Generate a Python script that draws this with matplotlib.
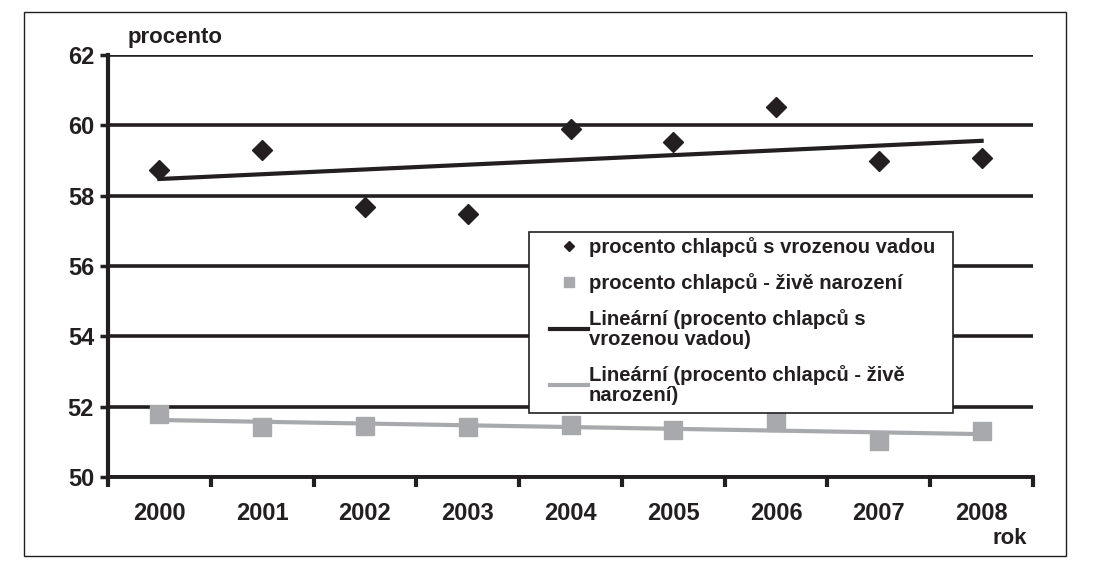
"""Procento chlapců s vrozenou vadou vs. živě narození, 2000-2008, s lineárními trendy."""

import matplotlib
matplotlib.use("Agg")
import matplotlib.pyplot as plt
import numpy as np
from matplotlib.patches import Rectangle

plt.rcParams["font.family"] = ["Liberation Sans", "DejaVu Sans"]
plt.rcParams["font.weight"] = "bold"

years = ["2000", "2001", "2002", "2003", "2004", "2005", "2006", "2007", "2008"]
vada = [58.72, 59.30, 57.68, 57.47, 59.90, 59.52, 60.51, 58.99, 59.06]
zive = [51.79, 51.42, 51.45, 51.42, 51.48, 51.33, 51.57, 51.02, 51.30]
y_ticks = [50, 52, 54, 56, 58, 60, 62]

labels = [
    "procento chlapců s vrozenou vadou",
    "procento chlapců - živě narození",
    "Lineární (procento chlapců s\nvrozenou vadou)",
    "Lineární (procento chlapců - živě\nnarození)",
]

DARK = "#231f20"
GREY = "#a7a9ac"
W, H = 1106, 563

fig = plt.figure(figsize=(W / 100, H / 100), dpi=100)
ax = fig.add_axes([108 / W, 1 - 477 / H, (1033 - 108) / W, (477 - 55) / H])

x = np.arange(len(years))

# linear trends, as in the spreadsheet
k1 = np.polyfit(x, vada, 1)
k2 = np.polyfit(x, zive, 1)

h_v, = ax.plot(x, vada, ls="none", marker="D", ms=9.8, color=DARK, zorder=4)
h_z, = ax.plot(x, zive, ls="none", marker="s", ms=12.5, color=GREY, zorder=3)
h_tv, = ax.plot(x, np.polyval(k1, x), color=DARK, lw=3, zorder=3.5)
h_tz, = ax.plot(x, np.polyval(k2, x), color=GREY, lw=3, zorder=3.5)

ax.set_xlim(-0.5, len(years) - 0.5)
ax.set_ylim(50, 62)
ax.set_yticks(y_ticks)
ax.set_yticklabels([str(v) for v in y_ticks], fontsize=17, fontweight="bold", color=DARK)
ax.set_xticks(x)
ax.set_xticklabels(years, fontsize=17, fontweight="bold", color=DARK)
ax.set_xticks(np.arange(len(years) + 1) - 0.5, minor=True)
ax.tick_params(axis="x", which="major", length=0, pad=18)
ax.tick_params(axis="x", which="minor", length=7, width=3, color=DARK, direction="out")
ax.tick_params(axis="y", length=6, width=2.5, color=DARK, pad=4)

ax.grid(axis="y", color=DARK, lw=2.6)
ax.set_axisbelow(True)
for s in ("top", "right"):
    ax.spines[s].set_visible(False)
ax.spines["left"].set_linewidth(3)
ax.spines["left"].set_color(DARK)
ax.spines["bottom"].set_linewidth(2.8)
ax.spines["bottom"].set_color(DARK)
ax.spines["bottom"].set_zorder(5)

# legend box drawn by hand so its size matches the original
box = Rectangle((529 / W, 1 - 413 / H), (953 - 529) / W, (413 - 232) / H,
                transform=fig.transFigure, fc="white", ec=DARK, lw=1.2, zorder=9)
ax.add_artist(box)
box.set_clip_on(False)

leg = ax.legend(
    [h_v, h_z, h_tv, h_tz], labels,
    loc="upper left", bbox_to_anchor=(546 / W, 1 - 233 / H),
    bbox_transform=fig.transFigure, borderaxespad=0,
    prop={"size": 14.6, "weight": "bold"}, markerscale=0.55,
    frameon=False, handlelength=1.85, handletextpad=0.05, labelspacing=0.78,
    borderpad=0.2, numpoints=1,
)
leg.set_zorder(10)
for t in leg.get_texts():
    t.set_linespacing(1.08)
    t.set_color(DARK)

fig.text(128 / W, 1 - 38 / H, "procento", fontsize=16, fontweight="bold",
         color=DARK, va="center", ha="left")
fig.text(1027 / W, 1 - 539 / H, "rok", fontsize=16, fontweight="bold",
         color=DARK, va="center", ha="right")

# outer frame round the whole chart
fig.patches.append(Rectangle((24 / W, 1 - 556 / H), (1066 - 24) / W, (556 - 12) / H,
                             transform=fig.transFigure, fill=False, ec=DARK, lw=1.0))

fig.savefig("out.png", dpi=100)
plt.close(fig)
